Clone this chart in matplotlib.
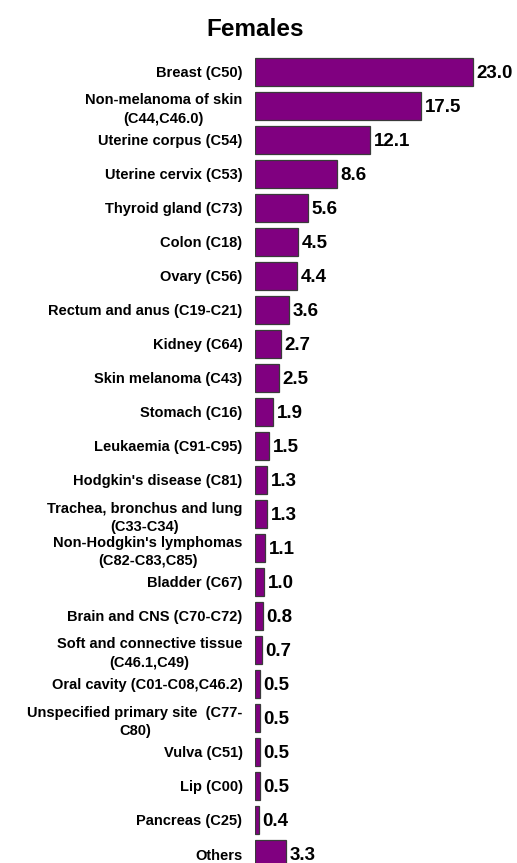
import matplotlib
matplotlib.use("Agg")
import matplotlib.pyplot as plt

plt.rcParams["font.family"] = ["Liberation Sans", "DejaVu Sans"]

sites = [
    "Breast (C50)",
    "Non-melanoma of skin\n(C44,C46.0)",
    "Uterine corpus (C54)",
    "Uterine cervix (C53)",
    "Thyroid gland (C73)",
    "Colon (C18)",
    "Ovary (C56)",
    "Rectum and anus (C19-C21)",
    "Kidney (C64)",
    "Skin melanoma (C43)",
    "Stomach (C16)",
    "Leukaemia (C91-C95)",
    "Hodgkin's disease (C81)",
    "Trachea, bronchus and lung\n(C33-C34)",
    "Non-Hodgkin's lymphomas\n(C82-C83,C85)",
    "Bladder (C67)",
    "Brain and CNS (C70-C72)",
    "Soft and connective tissue\n(C46.1,C49)",
    "Oral cavity (C01-C08,C46.2)",
    "Unspecified primary site  (C77-\nC80)",
    "Vulva (C51)",
    "Lip (C00)",
    "Pancreas (C25)",
    "Others",
]
percent = [23.0, 17.5, 12.1, 8.6, 5.6, 4.5, 4.4, 3.6, 2.7, 2.5, 1.9, 1.5,
           1.3, 1.3, 1.1, 1.0, 0.8, 0.7, 0.5, 0.5, 0.5, 0.5, 0.4, 3.3]

W, H = 517, 863
fig = plt.figure(figsize=(W / 100, H / 100), dpi=100)

# axes spans from the bar origin to the right edge, full height
ax = fig.add_axes([255 / W, 0, 262 / W, 1])
ypos = list(range(len(sites)))
ax.barh(ypos, percent, height=0.82, color="#800080",
        edgecolor="#3a3a3a", linewidth=0.9)

px_per_unit = 218 / 23.0
ax.set_xlim(0, 262 / px_per_unit)
ax.set_ylim((H - 72) / 34, -72 / 34)

for y, v in zip(ypos, percent):
    ax.text(v + 0.4, y + 0.03, f"{v:.1f}", va="center", ha="left",
            fontsize=13.5, fontweight="bold")

ax.set_yticks(ypos)
ax.set_yticklabels(sites, fontsize=10.5, fontweight="bold",
                   multialignment="center", linespacing=1.4)
ax.tick_params(axis="y", length=0, pad=9)
ax.set_xticks([])
for s in ax.spines.values():
    s.set_visible(False)

fig.text(255 / W, 1 - 29 / H, "Females", ha="center", va="center",
         fontsize=17.5, fontweight="bold")

fig.savefig("out.png", dpi=100)
